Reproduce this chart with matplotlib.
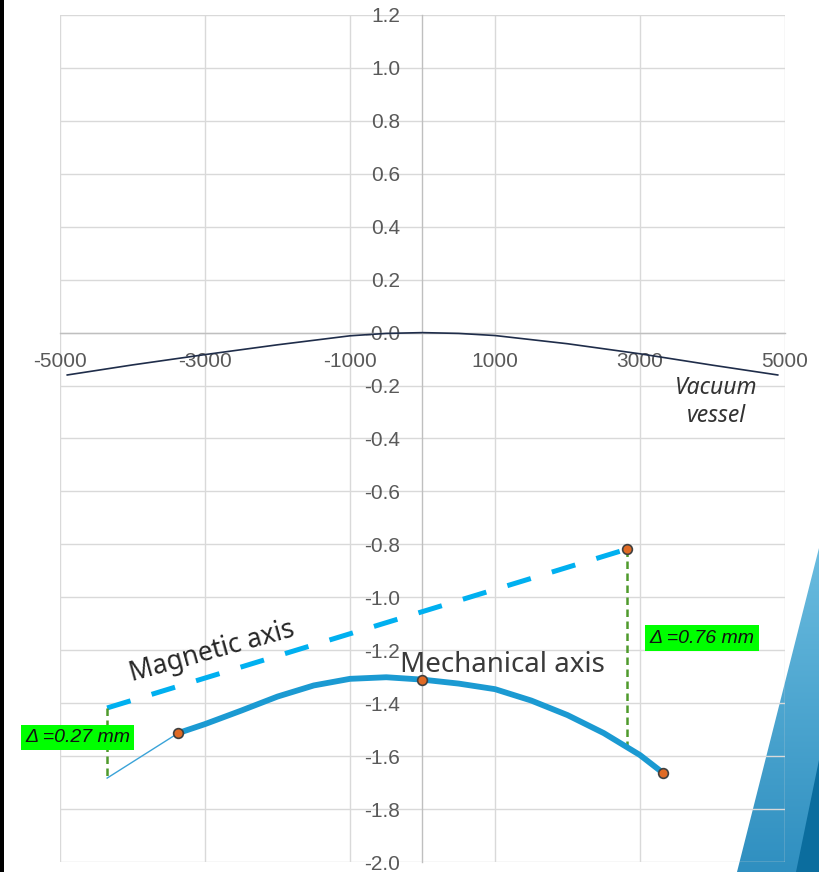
import numpy as np
import matplotlib
matplotlib.use("Agg")
import matplotlib.pyplot as plt
from matplotlib.patches import Polygon, Rectangle
from matplotlib.colors import LinearSegmentedColormap

plt.rcParams["axes.unicode_minus"] = False

# ---- data ----
vv_x = [-4900, -4000, -3000, -2000, -1000, -500, 0, 500, 1000, 2000, 3000, 4000, 4900]
vv_y = [-0.16, -0.122, -0.083, -0.046, -0.012, -0.003, 0.0, -0.003, -0.011, -0.042, -0.08, -0.123, -0.16]

mag_x = [-4350, 2820]
mag_y = [-1.418, -0.818]

mech_x = [-3370, -3000, -2500, -2000, -1500, -1000, -500, 0, 500, 1000, 1500, 2000, 2500, 3000, 3320]
mech_y = [-1.513, -1.479, -1.428, -1.375, -1.333, -1.308, -1.302, -1.311, -1.326, -1.347, -1.39, -1.445, -1.513, -1.596, -1.664]

ext_x = [-4350, -3370]
ext_y = [-1.683, -1.513]

marker_x = [-3370, 0, 3320, 2820]
marker_y = [-1.513, -1.311, -1.664, -0.818]

delta_left_x = [-4350, -4350]
delta_left_y = [-1.418, -1.683]
delta_right_x = [2820, 2820]
delta_right_y = [-0.818, -1.565]

xticks = [-5000, -3000, -1000, 1000, 3000, 5000]
yticks = [round(v, 1) for v in np.arange(-2.0, 1.21, 0.2)]

W, H = 819, 872
fig = plt.figure(figsize=(W / 100, H / 100), dpi=100)
fig.patch.set_facecolor("white")

# background decoration axes (pixel coords)
bg = fig.add_axes([0, 0, 1, 1], zorder=0)
bg.set_xlim(0, W)
bg.set_ylim(H, 0)
bg.axis("off")
bg.add_patch(Rectangle((0, 0), 3.5, H, color="black", lw=0))
poly = Polygon([(819, 548), (819, 872), (737, 872)], closed=True, facecolor="none", edgecolor="none")
bg.add_patch(poly)
grad = np.linspace(0, 1, 256).reshape(-1, 1)
cm = LinearSegmentedColormap.from_list("g", ["#6cbde0", "#2f8fc0"])
im = bg.imshow(grad, cmap=cm, extent=[730, 819, 872, 540], aspect="auto", zorder=1)
im.set_clip_path(poly)
dark = Polygon([(819, 760), (819, 872), (796, 872)], closed=True, facecolor="#0b6d9e", edgecolor="none", zorder=2)
bg.add_patch(dark)

# main chart axes
ax = fig.add_axes([60 / W, (H - 862) / H, 725 / W, 847 / H], zorder=1)
ax.patch.set_alpha(0)
ax.set_xlim(-5000, 5000)
ax.set_ylim(-2.0, 1.2)

ax.set_xticks(xticks)
ax.set_xticklabels([str(v) for v in xticks])
ax.set_yticks(yticks)
ax.set_yticklabels([f"{v:.1f}" for v in yticks])
ax.grid(True, color="#d9d9d9", lw=1.0, zorder=0)
for s in ["top", "right"]:
    ax.spines[s].set_visible(False)
ax.spines["left"].set_position(("data", 0))
ax.spines["bottom"].set_position(("data", 0))
ax.spines["left"].set_color("#bfbfbf")
ax.spines["bottom"].set_color("#bfbfbf")
ax.spines["left"].set_linewidth(1.0)
ax.spines["bottom"].set_linewidth(1.0)
ax.tick_params(axis="both", length=0, labelcolor="#595959", labelsize=15)
ax.tick_params(axis="y", pad=16)
ax.tick_params(axis="x", pad=14)
for lab in ax.get_xticklabels() + ax.get_yticklabels():
    lab.set_fontfamily("Liberation Sans")

# vacuum vessel
ax.plot(vv_x, vv_y, color="#1f2d4a", lw=1.2, zorder=3)
# magnetic axis
ax.plot(mag_x, mag_y, color="#00b0f0", lw=3.6, linestyle=(0, (4.9, 4.4)), zorder=3)
# extension
ax.plot(ext_x, ext_y, color="#3aa3d8", lw=1.0, zorder=3)
# mechanical axis
ax.plot(mech_x, mech_y, color="#1b9ad2", lw=4.2, solid_capstyle="round",
        solid_joinstyle="round", zorder=4)
# delta lines
ax.plot(delta_left_x, delta_left_y, color="#4f9a2c", lw=1.8, linestyle=(0, (3, 1.8)), zorder=3)
ax.plot(delta_right_x, delta_right_y, color="#4f9a2c", lw=1.8, linestyle=(0, (3, 1.8)), zorder=3)
# markers
ax.plot(marker_x, marker_y, "o", ms=7, mfc="#e06a24", mec="#404040", mew=1.2, zorder=5)

# texts
ax.text(1097, -1.256, "Mechanical axis", fontsize=20, family="Noto Sans", color="#3a3a3a",
        ha="center", va="center", zorder=6)
ax.text(-2903, -1.207, "Magnetic axis", fontsize=19, family="Noto Sans", color="#262626",
        ha="center", va="center", rotation=15.5, zorder=6)
ax.text(4048, -0.262, "Vacuum\nvessel", fontsize=16.5, family="Noto Sans", style="italic",
        color="#333333", ha="center", va="center", linespacing=1.25, zorder=6)
bb = dict(facecolor="#00ff00", edgecolor="none", pad=3)
ax.text(3855, -1.154, "\u0394 =0.76 mm", fontsize=14, family="Liberation Sans", style="italic",
        color="#111111", ha="center", va="center", bbox=bb, zorder=6)
ax.text(-4759, -1.530, "\u0394 =0.27 mm", fontsize=14, family="Liberation Sans", style="italic",
        color="#111111", ha="center", va="center", bbox=bb, zorder=6)

fig.savefig("out.png", dpi=100)
